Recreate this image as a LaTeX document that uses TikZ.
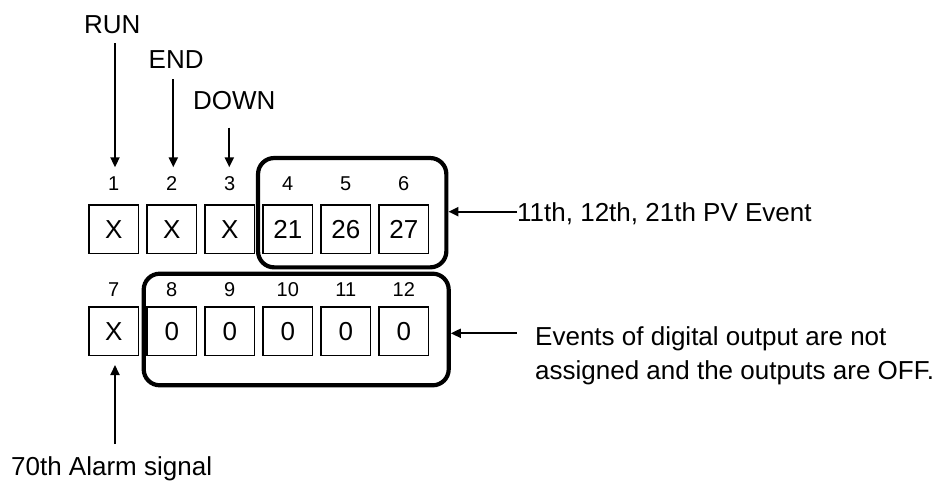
\documentclass[tikz,border=0pt]{standalone}
\usepackage{fontspec}
\setmainfont{Liberation Sans}
\usetikzlibrary{arrows.meta}
\tikzset{
  cell/.style={draw, line width=1.8pt, minimum width=49.2pt, minimum height=48.5pt, inner sep=0pt, font=\fontsize{26}{31}\selectfont},
  idx/.style={inner sep=0pt, font=\fontsize{20}{24}\selectfont},
  lbl/.style={inner sep=0pt, anchor=base west, font=\fontsize{26}{31}\selectfont},
  grp/.style={draw, line width=4.2pt, rounded corners=16pt, inner sep=0pt},
  arr/.style={line width=2pt, -{Triangle[length=10pt,width=9pt]}}
}
\begin{document}
\begin{tikzpicture}[x=1pt,y=-1pt]
\useasboundingbox (0,0) rectangle (947,489);
% cells row 1
\foreach \i/\t [count=\k from 0] in {1/X,2/X,3/X,4/21,5/26,6/27}{
  \node[cell] (b\i) at (113.8+58*\k,229.2) {\t};
  \node[idx] (l\i) at (113.8+58*\k,183.3) {\i};
}
% cells row 2
\foreach \i/\t [count=\k from 0] in {7/X,8/0,9/0,10/0,11/0,12/0}{
  \node[cell] (b\i) at (113.8+58*\k,331.3) {\t};
  \node[idx] (l\i) at (113.8+58*\k,289.3) {\i};
}
% groups
\node[grp, minimum width=188.3pt, minimum height=109.3pt] (g1) at (352.2,212.7) {};
\node[grp, minimum width=305pt, minimum height=111.6pt] (g2) at (296.2,329.5) {};
% texts
\node[lbl] (run) at (84,33.3) {RUN};
\node[lbl] (end) at (148.5,68.5) {END};
\node[lbl] (down) at (193,109.5) {DOWN};
\node[lbl] (pv) at (517,221) {11th, 12th, 21th PV Event};
\node[lbl] (ev1) at (535,345.7) {Events of digital output are not};
\node[lbl] (ev2) at (535,379.3) {assigned and the outputs are OFF.};
\node[lbl] (alarm) at (11,475) {70th Alarm signal};
% connector ends
\coordinate (runs) at (115,43.3);
\coordinate (ends) at (173.3,79.3);
\coordinate (downs) at (229.3,127.7);
\coordinate (evs) at (516.7,333.3);
\coordinate (alarms) at (115,444);
% arrows
\draw[arr] (runs) -- (runs |- 0,167.3);
\draw[arr] (ends) -- (ends |- 0,167.3);
\draw[arr] (downs) -- (downs |- 0,167.3);
\draw[arr] (pv.west |- 0,211.7) -- (g1.east |- 0,211.7);
\draw[arr] (evs) -- (g2.east |- evs);
\draw[arr] (alarms) -- (alarms |- 0,365);
\end{tikzpicture}
\end{document}
